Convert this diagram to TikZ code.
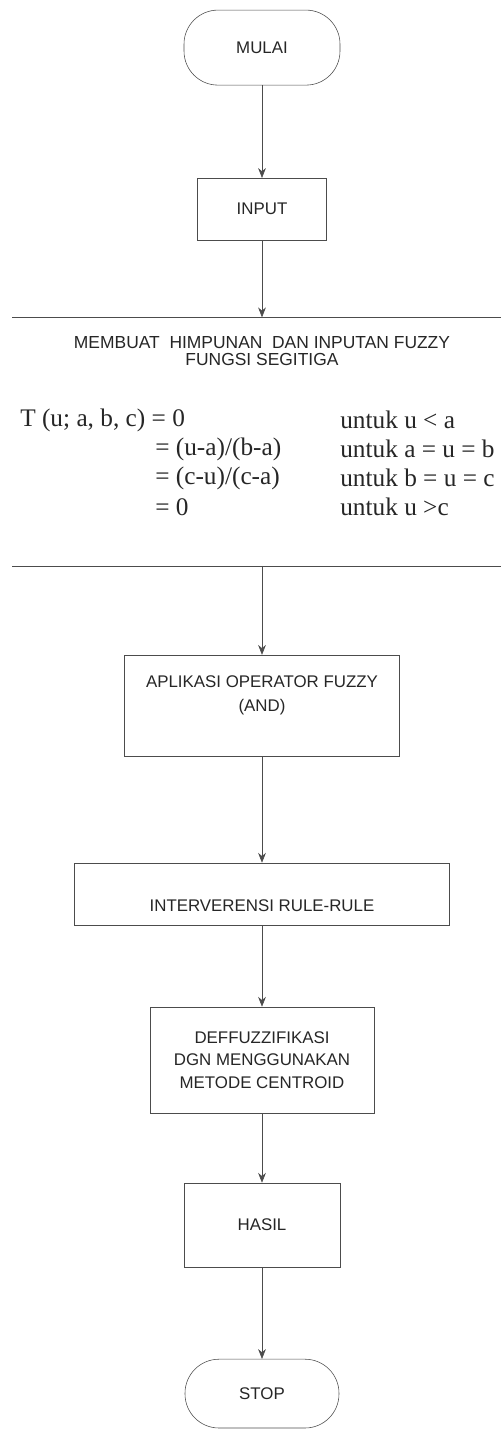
\documentclass[tikz,border=0pt]{standalone}
\usepackage{fontspec}
\setmainfont{Liberation Sans}
\newfontfamily\eqfont{Liberation Serif}
\usetikzlibrary{arrows.meta}

\begin{document}
\begin{tikzpicture}[
    box/.style={
        draw=black!70,
        minimum width=3.2cm,
        minimum height=1.5cm,
        align=center,
        text=black!85,
        font=\fontsize{12}{17}\selectfont
    },
    termbox/.style={box, rounded corners=0.85cm},
    bigbox/.style={minimum width=12.2cm, minimum height=6.2cm},
    eqtext/.style={anchor=west, inner sep=0pt, text=black!85, font=\eqfont\fontsize{18}{18}\selectfont},
    arrow/.style={->, >={Stealth[length=7pt, width=5.5pt]}, draw=black!70}
]
\useasboundingbox (0,0) rectangle (12.525,-35.725);

% Mulai
\node[termbox, minimum width=3.9cm, minimum height=1.875cm] (mulai) at (6.55, -1.19) {MULAI};

% Input
\node[box, minimum width=3.225cm, minimum height=1.55cm] (input) at (6.55, -5.23) {INPUT};

% Himpunan fuzzy (hanya garis atas dan bawah)
\node[bigbox] (fuzzy) at (6.41, -11.04) {};
\draw[black!70] (fuzzy.north west) -- (fuzzy.north east);
\draw[black!70] (fuzzy.south west) -- (fuzzy.south east);
\node[align=center, text=black!85, font=\fontsize{12.4}{12}\selectfont] (judul) at (6.55, -8.78)
    {MEMBUAT\ \ HIMPUNAN\ \ DAN INPUTAN FUZZY\\FUNGSI SEGITIGA};

% Fungsi segitiga
\node[eqtext] (eqa) at (0.5, -10.5) {T (u; a, b, c) = 0};
\node[eqtext] (eqb) at (3.875, -11.225) {= (u-a)/(b-a)};
\node[eqtext] (eqc) at (3.875, -11.95) {= (c-u)/(c-a)};
\node[eqtext] (eqd) at (3.875, -12.675) {= 0};
\node[eqtext] (conda) at (8.5, -10.5) {untuk u < a};
\node[eqtext] (condb) at (8.5, -11.225) {untuk a = u = b};
\node[eqtext] (condc) at (8.5, -11.95) {untuk b = u = c};
\node[eqtext] (condd) at (8.5, -12.675) {untuk u >c};

% Operator fuzzy
\node[box, minimum width=6.875cm, minimum height=2.525cm] (aplikasi) at (6.55, -17.64)
    {APLIKASI OPERATOR FUZZY\\(AND)\\\mbox{}};

% Rule
\node[box, minimum width=9.375cm, minimum height=1.55cm, text height=0.9cm] (rule) at (6.55, -22.35)
    {INTERVERENSI RULE-RULE};

% Defuzzifikasi
\node[box, minimum width=5.6cm, minimum height=2.65cm, font=\fontsize{12}{16}\selectfont] (defuzz) at (6.55, -26.5)
    {DEFFUZZIFIKASI\\DGN MENGGUNAKAN\\METODE CENTROID};

% Hasil
\node[box, minimum width=3.9cm, minimum height=2.1cm] (hasil) at (6.55, -30.625) {HASIL};

% Stop
\node[termbox, minimum width=3.85cm, minimum height=1.72cm] (stop) at (6.55, -34.84) {STOP};

% === PANAH ===
\draw[arrow] (mulai) -- (input);
\draw[arrow] (input) -- (input |- fuzzy.north);
\draw[arrow] (input |- fuzzy.south) -- (aplikasi);
\draw[arrow] (aplikasi) -- (rule);
\draw[arrow] (rule) -- (defuzz);
\draw[arrow] (defuzz) -- (hasil);
\draw[arrow] (hasil) -- (stop);

\end{tikzpicture}
\end{document}
